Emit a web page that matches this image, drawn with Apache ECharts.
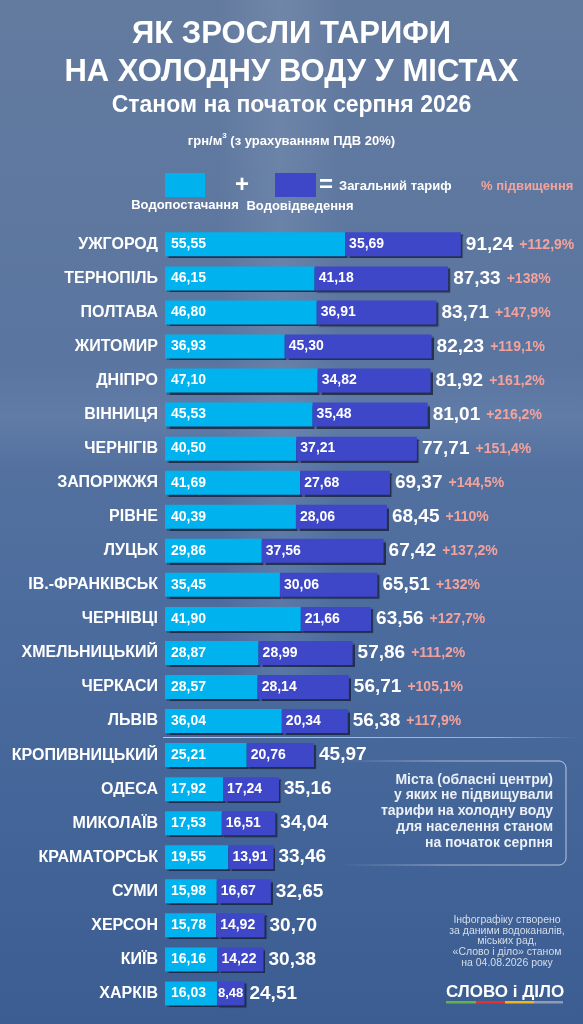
<!DOCTYPE html>
<html>
<head>
<meta charset="utf-8">
<title>Як зросли тарифи на холодну воду у містах</title>
<script src="https://cdn.jsdelivr.net/npm/echarts@6/dist/echarts.min.js"></script>
<style>
  html, body { margin: 0; padding: 0; }
  #chart { width: 583px; height: 1024px; }
</style>
</head>
<body>
<div id="chart"></div>
<script>
// дані з інфографіки, грн/м3
var cities = ['УЖГОРОД', 'ТЕРНОПІЛЬ', 'ПОЛТАВА', 'ЖИТОМИР', 'ДНІПРО', 'ВІННИЦЯ', 'ЧЕРНІГІВ',
  'ЗАПОРІЖЖЯ', 'РІВНЕ', 'ЛУЦЬК', 'ІВ.-ФРАНКІВСЬК', 'ЧЕРНІВЦІ', 'ХМЕЛЬНИЦЬКИЙ', 'ЧЕРКАСИ',
  'ЛЬВІВ', 'КРОПИВНИЦЬКИЙ', 'ОДЕСА', 'МИКОЛАЇВ', 'КРАМАТОРСЬК', 'СУМИ', 'ХЕРСОН', 'КИЇВ', 'ХАРКІВ'];
var supply = [55.55, 46.15, 46.80, 36.93, 47.10, 45.53, 40.50, 41.69, 40.39, 29.86, 35.45, 41.90,
  28.87, 28.57, 36.04, 25.21, 17.92, 17.53, 19.55, 15.98, 15.78, 16.16, 16.03];
var drain = [35.69, 41.18, 36.91, 45.30, 34.82, 35.48, 37.21, 27.68, 28.06, 37.56, 30.06, 21.66,
  28.99, 28.14, 20.34, 20.76, 17.24, 16.51, 13.91, 16.67, 14.92, 14.22, 8.48];
var totals = [91.24, 87.33, 83.71, 82.23, 81.92, 81.01, 77.71, 69.37, 68.45, 67.42, 65.51, 63.56,
  57.86, 56.71, 56.38, 45.97, 35.16, 34.04, 33.46, 32.65, 30.70, 30.38, 24.51];
var growth = ['+112,9%', '+138%', '+147,9%', '+119,1%', '+161,2%', '+216,2%', '+151,4%', '+144,5%',
  '+110%', '+137,2%', '+132%', '+127,7%', '+111,2%', '+105,1%', '+117,9%',
  '', '', '', '', '', '', '', ''];

var FONT = '"Liberation Sans", Arial, sans-serif';
var CYAN = '#00b2ee';
var DARK = '#3d47c8';
var PINK = '#f4a39c';

function fmt(v) {
  return v.toFixed(2).replace('.', ',');
}

var chart = echarts.init(document.getElementById('chart'));

var barShadow = {
  shadowColor: 'rgba(20, 26, 50, 0.75)',
  shadowOffsetX: 2,
  shadowOffsetY: 2,
  shadowBlur: 1
};

var option = {
  backgroundColor: new echarts.graphic.LinearGradient(0, 0, 0, 1, [
    { offset: 0, color: '#647b9f' },
    { offset: 0.3, color: '#5b76a0' },
    { offset: 0.6, color: '#4c6c9e' },
    { offset: 1, color: '#3b5d92' }
  ]),
  animation: false,
  grid: { left: 165, right: 3, top: 227.3, bottom: 13.5 },
  xAxis: {
    type: 'value',
    min: 0,
    max: 128,
    show: false
  },
  yAxis: {
    type: 'category',
    data: cities,
    inverse: true,
    axisLine: { show: false },
    axisTick: { show: false },
    splitLine: { show: false },
    axisLabel: {
      color: '#ffffff',
      fontFamily: FONT,
      fontWeight: 'bold',
      fontSize: 16,
      margin: 7
    }
  },
  series: [
    {
      name: 'Водопостачання',
      type: 'bar',
      stack: 'tariff',
      barWidth: 24,
      data: supply,
      itemStyle: Object.assign({ color: CYAN }, barShadow),
      label: {
        show: true,
        position: 'insideLeft',
        distance: 6,
        color: '#ffffff',
        fontFamily: FONT,
        fontWeight: 'bold',
        fontSize: 14,
        formatter: function (p) { return fmt(p.value); }
      }
    },
    {
      name: 'Водовідведення',
      type: 'bar',
      stack: 'tariff',
      barWidth: 24,
      data: drain.map(function (v) {
        return v < 10 ? { value: v, label: { distance: 1, fontSize: 13 } } : v;
      }),
      itemStyle: Object.assign({ color: DARK }, barShadow),
      label: {
        show: true,
        position: 'insideLeft',
        distance: 4,
        color: '#ffffff',
        fontFamily: FONT,
        fontWeight: 'bold',
        fontSize: 14,
        formatter: function (p) { return fmt(p.value); }
      }
    },
    {
      // загальний тариф та % підвищення в кінці стовпчика
      name: 'Загальний тариф',
      type: 'bar',
      stack: 'tariff',
      barWidth: 24,
      data: totals.map(function () { return 0; }),
      itemStyle: { color: 'rgba(0,0,0,0)' },
      label: {
        show: true,
        position: 'right',
        distance: 5,
        formatter: function (p) {
          var s = '{t|' + fmt(totals[p.dataIndex]) + '}';
          if (growth[p.dataIndex]) s += '{p|' + growth[p.dataIndex] + '}';
          return s;
        },
        rich: {
          t: { color: '#ffffff', fontFamily: FONT, fontWeight: 'bold', fontSize: 19 },
          p: { color: PINK, fontFamily: FONT, fontWeight: 'bold', fontSize: 14, padding: [1, 0, 0, 6] }
        }
      }
    }
  ],
  graphic: [
    // світла смуга струменя води
    {
      type: 'rect', silent: true, z: -10,
      shape: { x: 220, y: 0, width: 120, height: 700 },
      style: {
        fill: new echarts.graphic.LinearGradient(0, 0, 1, 0, [
          { offset: 0, color: 'rgba(255,255,255,0)' },
          { offset: 0.5, color: 'rgba(220,230,245,0.10)' },
          { offset: 1, color: 'rgba(255,255,255,0)' }
        ])
      }
    },
    // хвиля води
    {
      type: 'rect', silent: true, z: -10,
      shape: { x: 0, y: 360, width: 583, height: 110 },
      style: {
        fill: new echarts.graphic.LinearGradient(0, 0, 0, 1, [
          { offset: 0, color: 'rgba(220,232,248,0)' },
          { offset: 0.5, color: 'rgba(220,232,248,0.08)' },
          { offset: 1, color: 'rgba(220,232,248,0)' }
        ])
      }
    },
    // заголовок
    {
      type: 'text', left: 'center', top: 16,
      style: {
        text: 'ЯК ЗРОСЛИ ТАРИФИ\nНА ХОЛОДНУ ВОДУ У МІСТАХ',
        fill: '#ffffff', font: 'bold 31px ' + FONT, textAlign: 'center', lineHeight: 37.5
      }
    },
    {
      type: 'text', left: 'center', top: 93,
      style: {
        text: 'Станом на початок серпня 2026',
        fill: '#ffffff', font: 'bold 23px ' + FONT, textAlign: 'center', lineHeight: 26
      }
    },
    {
      type: 'text', left: 'center', top: 132,
      style: {
        text: '{a|грн/м}{s|3}{a| (з урахуванням ПДВ 20%)}',
        rich: {
          a: { fill: '#ffffff', font: 'bold 13px ' + FONT, lineHeight: 16, verticalAlign: 'bottom' },
          s: { fill: '#ffffff', font: 'bold 8px ' + FONT, lineHeight: 16, verticalAlign: 'top', padding: [0, 0, 7, 0] }
        }
      }
    },
    // легенда
    { type: 'rect', shape: { x: 165, y: 173, width: 40, height: 24 }, style: { fill: CYAN } },
    {
      type: 'text', x: 242, y: 185,
      style: { text: '+', fill: '#ffffff', font: 'bold 24px ' + FONT, textAlign: 'center', textVerticalAlign: 'middle' }
    },
    { type: 'rect', shape: { x: 275, y: 173, width: 41, height: 24 }, style: { fill: DARK } },
    {
      type: 'text', x: 326, y: 185,
      style: { text: '=', fill: '#ffffff', font: 'bold 24px ' + FONT, textAlign: 'center', textVerticalAlign: 'middle' }
    },
    {
      type: 'text', x: 339, y: 186,
      style: { text: 'Загальний тариф', fill: '#ffffff', font: 'bold 13px ' + FONT, textAlign: 'left', textVerticalAlign: 'middle' }
    },
    {
      type: 'text', x: 481, y: 186,
      style: { text: '% підвищення', fill: PINK, font: 'bold 13px ' + FONT, textAlign: 'left', textVerticalAlign: 'middle' }
    },
    {
      type: 'text', x: 185, y: 205,
      style: { text: 'Водопостачання', fill: '#ffffff', font: 'bold 13px ' + FONT, textAlign: 'center', textVerticalAlign: 'middle' }
    },
    {
      type: 'text', x: 300, y: 206,
      style: { text: 'Водовідведення', fill: '#ffffff', font: 'bold 13px ' + FONT, textAlign: 'center', textVerticalAlign: 'middle' }
    },
    // роздільна лінія між містами з підвищенням і без
    {
      type: 'line', silent: true,
      shape: { x1: 163, y1: 737.5, x2: 576, y2: 737.5 },
      style: {
        lineWidth: 1,
        stroke: new echarts.graphic.LinearGradient(0, 0, 1, 0, [
          { offset: 0, color: 'rgba(225,233,245,0.75)' },
          { offset: 0.8, color: 'rgba(225,233,245,0.55)' },
          { offset: 1, color: 'rgba(225,233,245,0)' }
        ])
      }
    },
    // рамка з поясненням
    {
      type: 'rect', silent: true,
      shape: { x: 340, y: 761, width: 226, height: 104, r: 7 },
      style: {
        fill: 'rgba(0,0,0,0)',
        lineWidth: 1,
        stroke: new echarts.graphic.LinearGradient(0, 0, 1, 0, [
          { offset: 0, color: 'rgba(225,233,245,0)' },
          { offset: 0.45, color: 'rgba(225,233,245,0.6)' },
          { offset: 1, color: 'rgba(225,233,245,0.75)' }
        ])
      }
    },
    {
      type: 'text', x: 553, y: 772,
      style: {
        text: 'Міста (обласні центри)\nу яких не підвищували\nтарифи на холодну воду\nдля населення станом\nна початок серпня',
        fill: '#eaf0f7', font: 'bold 14px ' + FONT, textAlign: 'right', textVerticalAlign: 'top', lineHeight: 15.7
      }
    },
    // джерело
    {
      type: 'text', x: 507, y: 914.5,
      style: {
        text: 'Інфографіку створено\nза даними водоканалів,\nміських рад,\n«Слово і діло» станом\nна 04.08.2026 року',
        fill: '#d5dde8', font: '10.5px ' + FONT, textAlign: 'center', textVerticalAlign: 'top', lineHeight: 10.8
      }
    },
    // логотип
    {
      type: 'text', x: 446, y: 992,
      style: { text: 'СЛОВО і ДІЛО', fill: '#ffffff', font: 'bold 17px ' + FONT, textAlign: 'left', textVerticalAlign: 'middle' }
    },
    { type: 'rect', shape: { x: 446, y: 1001, width: 30, height: 2.5 }, style: { fill: '#63b445' } },
    { type: 'rect', shape: { x: 476, y: 1001, width: 29, height: 2.5 }, style: { fill: '#e2322c' } },
    { type: 'rect', shape: { x: 505, y: 1001, width: 29, height: 2.5 }, style: { fill: '#f3b512' } },
    { type: 'rect', shape: { x: 534, y: 1001, width: 29, height: 2.5 }, style: { fill: '#8f9db2' } }
  ]
};

chart.setOption(option);
</script>
</body>
</html>
